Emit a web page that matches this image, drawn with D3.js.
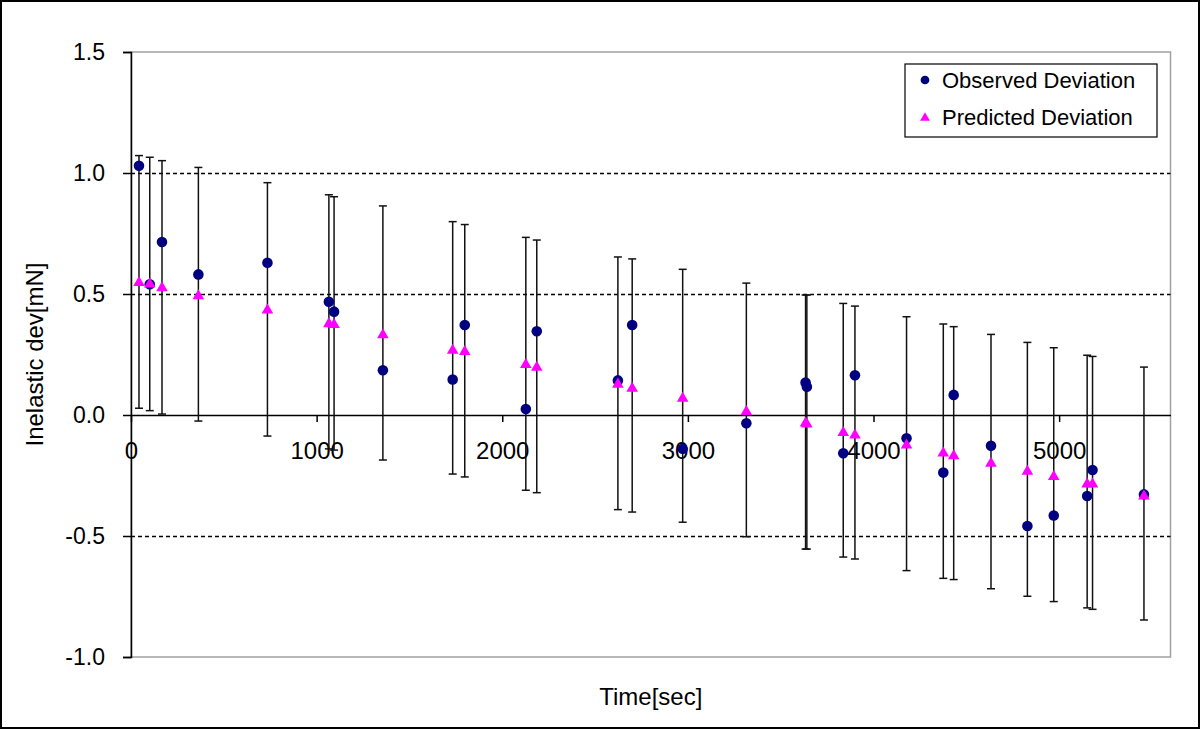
<!DOCTYPE html>
<html>
<head>
<meta charset="utf-8">
<script src="https://cdn.jsdelivr.net/npm/d3@7"></script>
<style>
  html, body { margin: 0; padding: 0; background: #fff; }
  svg { display: block; }
  text { font-family: "Liberation Sans", Arial, sans-serif; fill: #000; }
</style>
</head>
<body>
<svg id="chart" width="1200" height="729"></svg>
<script>
// ---- data ----
const time      = [43, 101, 167, 363, 735, 1066, 1094, 1357, 1733, 1798, 2127, 2186, 2623, 2700, 2972, 3315, 3634, 3641, 3837, 3900, 4178, 4376, 4432, 4633, 4829, 4971, 5151, 5180, 5457];
const observed  = [1.03, 0.54, 0.715, 0.581, 0.629, 0.468, 0.427, 0.185, 0.147, 0.372, 0.025, 0.346, 0.143, 0.372, -0.140, -0.034, 0.134, 0.117, -0.158, 0.164, -0.096, -0.238, 0.083, -0.127, -0.459, -0.415, -0.335, -0.227, -0.328];
const predicted = [0.551, 0.545, 0.529, 0.496, 0.437, 0.381, 0.377, 0.335, 0.271, 0.266, 0.212, 0.201, 0.131, 0.114, 0.073, 0.018, -0.030, -0.034, -0.069, -0.079, -0.121, -0.154, -0.165, -0.196, -0.229, -0.251, -0.282, -0.282, -0.331];
const errHigh   = [1.072, 1.065, 1.051, 1.023, 0.960, 0.910, 0.902, 0.864, 0.799, 0.787, 0.734, 0.723, 0.653, 0.645, 0.602, 0.545, 0.496, 0.496, 0.461, 0.450, 0.406, 0.376, 0.365, 0.333, 0.300, 0.278, 0.247, 0.242, 0.198];
const errLow    = [0.028, 0.018, 0.004, -0.025, -0.087, -0.140, -0.145, -0.186, -0.244, -0.256, -0.311, -0.321, -0.391, -0.401, -0.443, -0.503, -0.554, -0.554, -0.587, -0.595, -0.643, -0.675, -0.680, -0.718, -0.749, -0.771, -0.797, -0.803, -0.847];
const xTicks    = [0, 1000, 2000, 3000, 4000, 5000];
const yTicks    = [-1.0, -0.5, 0.0, 0.5, 1.0, 1.5];
const gridLines = [-0.5, 0.5, 1.0];
const seriesNames = ["Observed Deviation", "Predicted Deviation"];
const xTitle = "Time[sec]";
const yTitle = "Inelastic dev[mN]";

// ---- layout ----
const svg = d3.select("#chart");
const W = 1200, H = 729;
const plot = { left: 131, top: 52, right: 1170.5, bottom: 657 };

const x = d3.scaleLinear().domain([0, 5600]).range([plot.left, plot.right]);
const y = d3.scaleLinear().domain([-1.0, 1.5]).range([plot.bottom, plot.top]);

// outer frame
svg.append("rect").attr("x", 1).attr("y", 1).attr("width", W - 2).attr("height", H - 2)
  .attr("fill", "#fff").attr("stroke", "#000").attr("stroke-width", 2);

// plot area border (gray)
svg.append("rect")
  .attr("x", plot.left).attr("y", plot.top)
  .attr("width", plot.right - plot.left).attr("height", plot.bottom - plot.top)
  .attr("fill", "none").attr("stroke", "#a0a0a0").attr("stroke-width", 1.5);

// dashed gridlines
svg.append("g").selectAll("line").data(gridLines).join("line")
  .attr("x1", plot.left).attr("x2", plot.right)
  .attr("y1", d => Math.round(y(d)) + 0.5).attr("y2", d => Math.round(y(d)) + 0.5)
  .attr("stroke", "#000").attr("stroke-width", 1.5).attr("stroke-dasharray", "4,3");

// y axis
const yAxis = d3.axisLeft(y).tickValues(yTicks).tickFormat(d3.format(".1f")).tickSize(8).tickPadding(18);
const gy = svg.append("g").attr("transform", `translate(${plot.left},0)`).call(yAxis);
gy.select(".domain").attr("stroke", "#000").attr("stroke-width", 1.5);
gy.selectAll(".tick line").attr("stroke", "#000").attr("stroke-width", 1.5);
gy.selectAll(".tick text").attr("font-size", 23).attr("font-family", "Liberation Sans, Arial, sans-serif").attr("fill", "#000")
  .text(d => d3.format(".1f")(d).replace("−", "-"));

// x axis at y = 0
const xAxis = d3.axisBottom(x).tickValues(xTicks).tickFormat(d3.format("d")).tickSize(7).tickSizeOuter(0).tickPadding(20);
const gx = svg.append("g").attr("transform", `translate(0,${y(0)})`).call(xAxis);
gx.select(".domain").attr("stroke", "#000").attr("stroke-width", 1.5);
gx.selectAll(".tick line").attr("stroke", "#000").attr("stroke-width", 1.5);
gx.selectAll(".tick text").attr("font-size", 24).attr("font-family", "Liberation Sans, Arial, sans-serif").attr("fill", "#000");

// error bars
const idx = d3.range(time.length);
const eb = svg.append("g").attr("stroke", "#111").attr("stroke-width", 1.5);
const capW = 4;
eb.selectAll(".v").data(idx).join("line").attr("class", "v")
  .attr("x1", i => x(time[i])).attr("x2", i => x(time[i]))
  .attr("y1", i => y(errHigh[i])).attr("y2", i => y(errLow[i]));
eb.selectAll(".ct").data(idx).join("line").attr("class", "ct")
  .attr("x1", i => x(time[i]) - capW).attr("x2", i => x(time[i]) + capW)
  .attr("y1", i => y(errHigh[i])).attr("y2", i => y(errHigh[i]));
eb.selectAll(".cb").data(idx).join("line").attr("class", "cb")
  .attr("x1", i => x(time[i]) - capW).attr("x2", i => x(time[i]) + capW)
  .attr("y1", i => y(errLow[i])).attr("y2", i => y(errLow[i]));

// observed markers
const navy = "#000080", magenta = "#ff00ff";
const circleSym = d3.symbol().type(d3.symbolCircle).size(88);
const triSym = d3.symbol().type(d3.symbolTriangle).size(58);
const circleLeg = d3.symbol().type(d3.symbolCircle).size(60);
const triLeg = d3.symbol().type(d3.symbolTriangle).size(42);

svg.append("g").selectAll("path").data(idx).join("path")
  .attr("d", circleSym)
  .attr("transform", i => `translate(${x(time[i])},${y(observed[i])})`)
  .attr("fill", navy);

// predicted markers
svg.append("g").selectAll("path").data(idx).join("path")
  .attr("d", triSym)
  .attr("transform", i => `translate(${x(time[i])},${y(predicted[i]) + 1})`)
  .attr("fill", magenta);

// axis titles
svg.append("text").attr("x", (plot.left + plot.right) / 2).attr("y", 705)
  .attr("text-anchor", "middle").attr("font-size", 24).text(xTitle);
svg.append("text")
  .attr("transform", `translate(43,${(plot.top + plot.bottom) / 2}) rotate(-90)`)
  .attr("text-anchor", "middle").attr("font-size", 24).text(yTitle);

// legend
const lg = svg.append("g");
lg.append("rect").attr("x", 905).attr("y", 64).attr("width", 252).attr("height", 73)
  .attr("fill", "#fff").attr("stroke", "#000").attr("stroke-width", 1.2);
const rows = [80, 117];
lg.append("path").attr("d", circleLeg).attr("transform", `translate(925,${rows[0]})`).attr("fill", navy);
lg.append("path").attr("d", triLeg).attr("transform", `translate(925,${rows[1] + 1})`).attr("fill", magenta);
lg.selectAll("text").data(seriesNames).join("text")
  .attr("x", 942).attr("y", (d, i) => rows[i]).attr("dy", "0.36em")
  .attr("font-size", 22).text(d => d);
</script>
</body>
</html>
